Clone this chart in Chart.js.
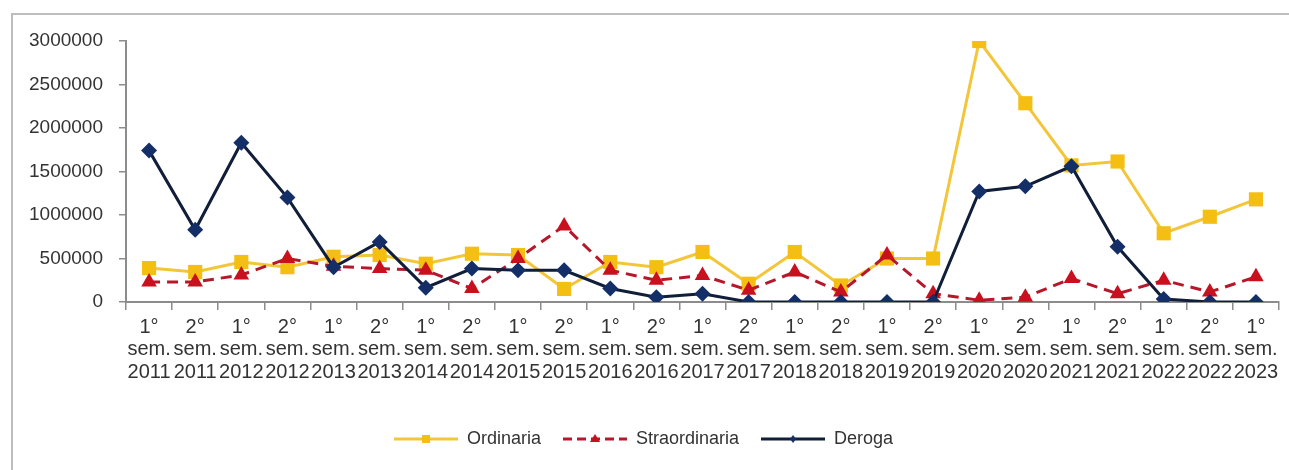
<!DOCTYPE html>
<html>
<head>
<meta charset="utf-8">
<script src="https://cdn.jsdelivr.net/npm/chart.js@4/dist/chart.umd.min.js"></script>
<style>
  html, body { margin: 0; padding: 0; background: #fff; }
  #wrap { width: 1289px; height: 470px; }
</style>
</head>
<body>
<div id="wrap"><canvas id="chart" width="1289" height="470"></canvas></div>
<script>
// Dati
const halves = ['1°','2°','1°','2°','1°','2°','1°','2°','1°','2°','1°','2°','1°','2°','1°','2°','1°','2°','1°','2°','1°','2°','1°','2°','1°'];
const years = ['2011','2011','2012','2012','2013','2013','2014','2014','2015','2015','2016','2016','2017','2017','2018','2018','2019','2019','2020','2020','2021','2021','2022','2022','2023'];
const seriesNames = ['Ordinaria', 'Straordinaria', 'Deroga'];
const ordinaria = [390000, 345000, 460000, 400000, 520000, 540000, 440000, 555000, 540000, 150000, 460000, 400000, 575000, 210000, 575000, 190000, 500000, 500000, 3000000, 2285000, 1570000, 1615000, 790000, 980000, 1180000];
const straordinaria = [230000, 230000, 310000, 500000, 410000, 385000, 365000, 155000, 500000, 875000, 365000, 250000, 305000, 135000, 345000, 115000, 540000, 95000, 20000, 55000, 270000, 95000, 250000, 115000, 290000];
const deroga = [1740000, 830000, 1830000, 1200000, 400000, 690000, 165000, 385000, 365000, 365000, 155000, 55000, 95000, 0, 0, 0, 0, 0, 1270000, 1330000, 1560000, 635000, 35000, 0, 0];
const yTicks = [0, 500000, 1000000, 1500000, 2000000, 2500000, 3000000];

const labels = halves.map((h, i) => [h, 'sem.', years[i]]);

const YELLOW_LINE = '#F3C63A';
const YELLOW = '#F4BE12';
const RED_LINE = '#B5182B';
const RED = '#C8101E';
const NAVY_LINE = '#101E3A';
const NAVY = '#142E68';

const FONT = "'Liberation Sans', Arial, sans-serif";

// campioni per la legenda (linea + marcatore)
function makeSample(lineColor, markColor, dash, shape) {
    const c = document.createElement('canvas');
    c.width = 64; c.height = 16;
    const g = c.getContext('2d');
    g.strokeStyle = lineColor;
    g.lineWidth = 3;
    g.setLineDash(dash);
    g.beginPath(); g.moveTo(0, 8); g.lineTo(64, 8); g.stroke();
    g.setLineDash([]);
    g.fillStyle = markColor;
    g.beginPath();
    if (shape === 'rect') {
        g.rect(28, 4, 8, 8);
    } else if (shape === 'triangle') {
        g.moveTo(32, 3); g.lineTo(37, 11); g.lineTo(27, 11); g.closePath();
    } else {
        g.moveTo(32, 4); g.lineTo(35, 8); g.lineTo(32, 12); g.lineTo(29, 8); g.closePath();
    }
    g.fill();
    return c;
}
const samples = [
    makeSample(YELLOW_LINE, YELLOW, [], 'rect'),
    makeSample(RED_LINE, RED, [9, 5], 'triangle'),
    makeSample(NAVY_LINE, NAVY, [], 'rectRot')
];

const framePlugin = {
    id: 'frame',
    beforeDraw(chart) {
        const ctx = chart.ctx;
        ctx.save();
        ctx.fillStyle = '#fff';
        ctx.fillRect(0, 0, chart.width, chart.height);
        ctx.strokeStyle = '#BDBDBD';
        ctx.lineWidth = 2;
        ctx.beginPath();
        ctx.moveTo(12, chart.height);
        ctx.lineTo(12, 14);
        ctx.lineTo(chart.width, 14);
        ctx.stroke();
        ctx.restore();
    }
};

new Chart(document.getElementById('chart').getContext('2d'), {
    type: 'line',
    data: {
        labels: labels,
        datasets: [
            {
                label: seriesNames[0], data: ordinaria, order: 3,
                borderColor: YELLOW_LINE, backgroundColor: YELLOW, borderWidth: 3,
                pointStyle: 'rect', pointRadius: 10, pointBackgroundColor: YELLOW, pointBorderWidth: 0,
                tension: 0
            },
            {
                label: seriesNames[1], data: straordinaria, order: 2,
                borderColor: RED_LINE, backgroundColor: RED, borderWidth: 3, borderDash: [11, 7],
                pointStyle: 'triangle', pointRadius: 9, pointBackgroundColor: RED, pointBorderWidth: 0,
                tension: 0
            },
            {
                label: seriesNames[2], data: deroga, order: 1,
                borderColor: NAVY_LINE, backgroundColor: NAVY, borderWidth: 3,
                pointStyle: 'rectRot', pointRadius: 8, pointBackgroundColor: NAVY, pointBorderWidth: 0,
                tension: 0
            }
        ]
    },
    options: {
        responsive: false,
        animation: false,
        layout: { padding: { top: 41, right: 2, bottom: 12, left: 0 } },
        plugins: {
            tooltip: { enabled: false },
            legend: {
                position: 'bottom',
                labels: {
                    usePointStyle: true,
                    pointStyleWidth: 64,
                    padding: 22,
                    color: '#333',
                    font: { family: FONT, size: 18 },
                    generateLabels: () => seriesNames.map((name, i) => ({
                        text: name, pointStyle: samples[i], datasetIndex: i,
                        fontColor: '#333', hidden: false, lineWidth: 0,
                        strokeStyle: 'rgba(0,0,0,0)', fillStyle: 'rgba(0,0,0,0)'
                    }))
                }
            }
        },
        scales: {
            x: {
                offset: true,
                afterFit: s => { s.height = 106; },
                grid: { display: true, drawOnChartArea: false, offset: true, tickLength: 8, color: '#8c8c8c', lineWidth: 1.5 },
                border: { display: true, color: '#8c8c8c', width: 2 },
                ticks: {
                    autoSkip: false, maxRotation: 0, minRotation: 0, padding: 6,
                    color: '#333', font: { family: FONT, size: 20, lineHeight: 1.12 }
                }
            },
            y: {
                min: 0, max: 3000000,
                afterFit: s => { s.width = 126; },
                afterBuildTicks: s => { s.ticks = yTicks.map(v => ({ value: v })); },
                grid: { display: true, drawOnChartArea: false, tickLength: 7, color: '#8c8c8c', lineWidth: 1.5 },
                border: { display: true, color: '#8c8c8c', width: 2 },
                ticks: {
                    padding: 16, color: '#333',
                    font: { family: FONT, size: 19 },
                    callback: v => String(v)
                }
            }
        }
    },
    plugins: [framePlugin]
});
</script>
</body>
</html>
